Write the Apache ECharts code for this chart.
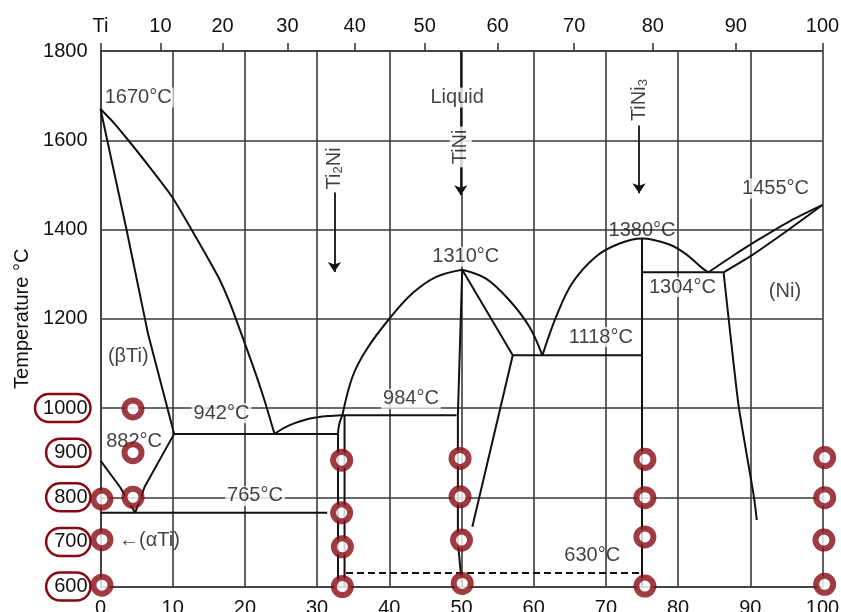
<!DOCTYPE html>
<html><head><meta charset="utf-8">
<script src="https://cdn.jsdelivr.net/npm/echarts@6/dist/echarts.min.js"></script>
<style>html,body{margin:0;padding:0;background:#fff}#c{width:841px;height:612px}</style>
</head><body><div id="c"></div>
<script>
// ---- axis ticks ----
const bottomTicks = [0,10,20,30,40,50,60,70,80,90,100];            // at.% Ni
const topTickPos = [0,8.3,16.9,25.9,35.2,44.9,55.0,65.6,76.5,88.0,100]; // at.% position of wt.% ticks
const topTickLabels = ['Ti','10','20','30','40','50','60','70','80','90','100'];
const yLabelVals = [600,700,800,900,1000,1200,1400,1600,1800];
const yCircled = [600,700,800,900,1000];

// ---- phase boundaries [at.% Ni, °C] ----
const liquidusTi = [[0,1670],[1.9,1638],[3.85,1600],[6.8,1540],[9.84,1475],[12.6,1400],[16.3,1294],[18.0,1232],[19.6,1162],[21.1,1095],[22.6,1023],[24.1,942]];
const solidusTi = [[0,1670],[3.6,1400],[6.6,1165],[10.2,942]];
const betaSolvus = [[10.2,942],[6.1,823],[4.8,765]];
const betaTransus = [[0,882],[2.7,823],[4.8,765]];
const eutectic942 = [[10.2,942],[32.9,942]];
const eutectoid765 = [[0,765],[31.4,765]];
const liquidusTi2Ni = [[24.1,942],[25.5,956],[26.9,966],[29.2,977],[31.5,982],[33.5,984]];
const ti2NiLeft = [[32.9,600],[32.9,943],[33.1,966],[33.5,984]];
const ti2NiRight = [[33.8,984],[33.8,600]];
const peritectic984 = [[33.5,984],[49.3,984]];
const liquidusTiNiL = [[33.5,984],[34.9,1070],[36.8,1130],[40.0,1200],[43.2,1257],[46.5,1294],[50.1,1310]];
const tiNiLeft = [[50.1,1310],[49.5,984],[49.5,700],[49.9,630],[50.1,600]];
const tiNiRightA = [[50.1,1310],[57.1,1118]];
const tiNiRightB = [[57.1,1118],[51.5,734]];
const liquidusTiNiR = [[50.1,1310],[53.4,1290],[56.6,1242],[59.4,1182],[61.2,1118]];
const eutectic1118 = [[57.1,1118],[75,1118]];
const liquidusTiNi3 = [[61.2,1118],[63.1,1204],[65.3,1279],[68.6,1339],[71.8,1368],[75,1380],[78.7,1367],[81,1346],[83.3,1314],[84.2,1304]];
const tiNi3Line = [[75,1380],[75,600]];
const eutectic1304 = [[75,1304],[86.3,1304]];
const liquidusNi = [[84.2,1304],[87.5,1340],[91,1376],[95.5,1419],[100,1455]];
const solidusNi = [[86.3,1304],[90.2,1342],[95,1396],[100,1455]];
const solvusNi = [[86.3,1304],[87.0,1200],[88.4,1003],[90.5,801],[90.9,749]];
const dashed630 = [[34.0,630],[75,630]];

// ---- compound arrows ----
const arrowLines = [[[32.4,1484],[32.4,1305]],[[49.9,1800],[49.9,1477]],[[74.6,1633],[74.6,1481]]];

// ---- text annotations ----
const annoText = ['1670°C','Liquid','1455°C','1380°C','1310°C','1304°C','(Ni)','1118°C','(βTi)','942°C','882°C','765°C','984°C','630°C','←(αTi)'];
const annoPos = [[0.3,1696],[49.4,1696],[93.5,1492],[75,1398],[50.6,1339],[80.6,1271],[94.8,1260],[69.3,1159],[3.85,1115],[16.75,988],[4.65,924],[21.4,803],[43.0,1021],[68.1,670],[2.3,704]];
const annoAlign = ['left','center','center','center','center','center','center','center','center','center','center','center','center','center','left'];
const annoBg = [true,true,true,false,true,true,false,true,false,true,false,true,true,false,false];
const compoundText = ['{a|Ti}{s|2}{a|Ni}','{a|TiNi}','{a|TiNi}{s|3}'];
const compoundPos = [[32.4,1537],[49.9,1585],[74.6,1690]];

// ---- red ring markers ----
const ringPts = [[4.5,998],[4.5,900],[4.5,800],[0.2,796],[0.2,705],[0.2,603],
  [33.4,883],[33.4,765],[33.5,689],[33.5,600],
  [49.8,887],[49.8,801],[50.0,704],[50.1,607],
  [75.4,885],[75.4,799],[75.4,711],[75.4,601],
  [100.3,889],[100.3,799],[100.2,704],[100.3,605]];

const FONT = "'Liberation Sans', Arial, Helvetica, sans-serif";
const TXT = '#111';
const GRID = '#3a3a3a';
const LINE = '#111';
const RED = '#870a13';

function phase(data, smooth, extra) {
  return Object.assign({type:'line', data:data, showSymbol:false, symbol:'none', smooth:smooth||false,
    silent:true, z:3, lineStyle:{color:LINE, width:2}}, extra||{});
}

const chart = echarts.init(document.getElementById('c'), null, {renderer:'canvas'});
const option = {
  animation:false,
  backgroundColor:'#fff',
  textStyle:{fontFamily:FONT},
  grid:{left:100.5, right:18.5, top:51, bottom:25.5, containLabel:false, outerBoundsMode:'none'},
  xAxis:[{
    type:'value', min:0, max:100, interval:10, position:'bottom',
    axisLine:{show:true, lineStyle:{color:GRID, width:1.6}},
    axisTick:{show:false},
    axisLabel:{fontSize:20, color:TXT, margin:12, fontFamily:FONT},
    splitLine:{show:true, lineStyle:{color:GRID, width:1.6}}
  },{
    type:'value', min:0, max:100, position:'top',
    axisLine:{show:true, lineStyle:{color:GRID, width:1.6}},
    axisTick:{show:true, customValues:topTickPos, length:8, lineStyle:{color:GRID, width:1.6}},
    axisLabel:{customValues:topTickPos, fontSize:20, color:TXT, margin:15, fontFamily:FONT,
      formatter:function(v){const i=topTickPos.indexOf(v);return i>=0?topTickLabels[i]:'';}},
    splitLine:{show:false}
  }],
  yAxis:[{
    type:'value', min:600, max:1800, interval:200,
    name:'Temperature °C', nameLocation:'middle', nameGap:68, nameMoveOverlap:false,
    nameTextStyle:{fontSize:20, color:TXT, fontFamily:FONT},
    axisLine:{show:true, lineStyle:{color:GRID, width:1.6}},
    axisTick:{show:false},
    axisLabel:{customValues:yLabelVals, margin:10, fontFamily:FONT,
      formatter:function(v){return (yCircled.indexOf(v)>=0?'{e|':'{n|')+v+'}';},
      rich:{
        n:{fontSize:20, color:TXT, fontFamily:FONT, padding:[0,3,0,0]},
        e:{fontSize:20, color:TXT, fontFamily:FONT, padding:[4,3,4,8], borderColor:RED, borderWidth:2.5, borderRadius:16}
      }},
    splitLine:{show:true, lineStyle:{color:GRID, width:1.6}}
  }],
  series:[
    phase(liquidusTi, 0.2),
    phase(solidusTi, false),
    phase(betaSolvus, false),
    phase(betaTransus, false),
    phase(eutectic942, false),
    phase(eutectoid765, false),
    phase(liquidusTi2Ni, 0.3),
    phase(ti2NiLeft, 0.2),
    phase(ti2NiRight, false),
    phase(peritectic984, false),
    phase(liquidusTiNiL, 0.35),
    phase(tiNiLeft, false),
    phase(tiNiRightA, false),
    phase(tiNiRightB, false),
    phase(liquidusTiNiR, 0.35),
    phase(eutectic1118, false),
    phase(liquidusTiNi3, 0.35),
    phase(tiNi3Line, false),
    phase(eutectic1304, false),
    phase(liquidusNi, 0.2),
    phase(solidusNi, 0.2),
    phase(solvusNi, 0.2),
    phase(dashed630, false, {lineStyle:{color:LINE, width:2, type:[7,4]}}),
    {type:'lines', coordinateSystem:'cartesian2d', silent:true, z:3,
      symbol:['none','arrow'], symbolSize:10,
      lineStyle:{color:LINE, width:1.8, opacity:1},
      data:arrowLines.map(c=>({coords:c}))},
    {type:'scatter', symbolSize:0, silent:true, z:6, clip:false,
      data:annoText.map((t,i)=>({name:t, value:annoPos[i],
        label:{show:true, position:'inside', formatter:'{b}', align:annoAlign[i],
          fontSize:20, color:TXT, fontFamily:FONT,
          backgroundColor:annoBg[i]?'#fff':'transparent', padding:[0,2]}}))},
    {type:'scatter', symbolSize:0, silent:true, z:6, clip:false,
      data:compoundText.map((t,i)=>({value:compoundPos[i],
        label:{show:true, position:'inside', rotate:90, formatter:t,
          backgroundColor:'#fff', padding:[1,3],
          rich:{a:{fontSize:20, color:TXT, fontFamily:FONT},
                s:{fontSize:13, color:TXT, fontFamily:FONT, verticalAlign:'bottom', padding:[8,0,0,0]}}}}))},
    {type:'scatter', symbol:'circle', symbolSize:17, silent:true, z:10, clip:false,
      itemStyle:{color:'#fff', borderColor:RED, borderWidth:6},
      data:ringPts}
  ]
};
chart.setOption(option);
</script></body></html>
